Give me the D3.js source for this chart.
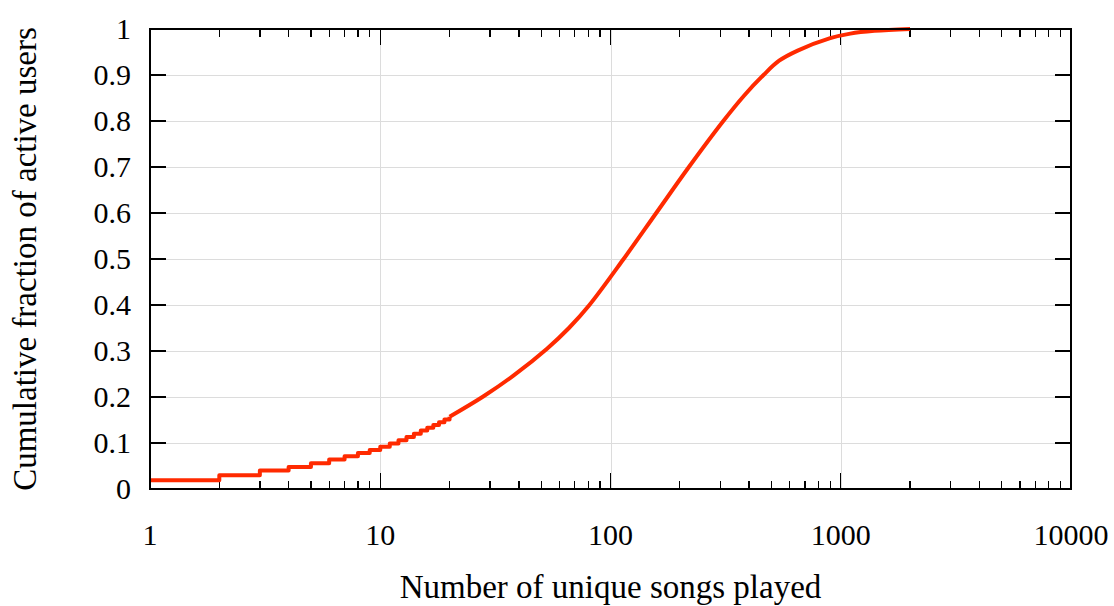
<!DOCTYPE html>
<html>

<head>
  <meta charset="utf-8" />
  <title>CDF of unique songs</title>
  <style>
    body {
      margin: 0;
      background: #fff;
    }

    svg text {
      font-family: 'Liberation Serif', 'Times New Roman', Times, serif;
      fill: #000;
    }

    .grid line {
      stroke: #dcdcdc;
      stroke-width: 1px;
      shape-rendering: crispEdges;
    }

    .tick-mark {
      stroke: #000;
      stroke-width: 1.3px;
      shape-rendering: crispEdges;
    }

    .frame {
      fill: none;
      stroke: #000;
      stroke-width: 1.5px;
      shape-rendering: crispEdges;
    }

    .cdf {
      fill: none;
      stroke: #ff2a00;
      stroke-width: 4px;
      stroke-linejoin: round;
    }
  </style>
  <script src="https://cdnjs.cloudflare.com/ajax/libs/d3/7.8.5/d3.min.js"></script>
</head>

<body>
  <div id="chartArea"></div>
  <script>
    // discrete part: step function at small song counts
    var stepSongs = [1, 2, 3, 4, 5, 6, 7, 8, 9, 10, 11, 12, 13, 14, 15, 16, 17, 18, 19, 20];
    var stepFrac = [0.019, 0.030, 0.040, 0.048, 0.056, 0.064, 0.071, 0.078, 0.085, 0.092,
      0.099, 0.106, 0.113, 0.120, 0.127, 0.133, 0.139, 0.145, 0.151, 0.157];

    // smooth part of the curve
    var smoothSongs = [20, 28, 38, 53, 66, 81, 114, 158, 219, 309, 380, 462, 540, 650, 900, 1100, 1400, 2000];
    var smoothFrac = [0.157, 0.201, 0.247, 0.305, 0.350, 0.400, 0.500, 0.600, 0.700, 0.800, 0.855,
      0.900, 0.931, 0.953, 0.980, 0.990, 0.996, 1.0];

    var yTickValues = [0, 0.1, 0.2, 0.3, 0.4, 0.5, 0.6, 0.7, 0.8, 0.9, 1];
    var xTickLabels = ['1', '10', '100', '1000', '10000'];

    var xTitle = 'Number of unique songs played';
    var yTitle = 'Cumulative fraction of active users';

    var W = 1114, H = 606;
    var margin = { top: 29, right: 43, bottom: 117, left: 150 };
    var w = W - margin.left - margin.right,
      h = H - margin.top - margin.bottom;

    var svg = d3.select('#chartArea').append('svg')
      .attr('width', W)
      .attr('height', H);

    var g = svg.append('g')
      .attr('transform', 'translate(' + margin.left + ',' + margin.top + ')');

    var xScale = d3.scaleLog()
      .domain([1, 10000])
      .range([0, w]);

    var yScale = d3.scaleLinear()
      .domain([0, 1])
      .range([h, 0]);

    var xTicks = xScale.ticks();
    var isMajor = d => Math.abs(Math.log10(d) - Math.round(Math.log10(d))) < 1e-9;
    var xMajor = xTicks.filter(isMajor);

    // grid
    var grid = g.append('g').attr('class', 'grid');
    grid.selectAll('.gx')
      .data(xMajor.filter(d => d > 1 && d < 10000))
      .enter().append('line')
      .attr('x1', d => Math.round(xScale(d)) + 0.5)
      .attr('x2', d => Math.round(xScale(d)) + 0.5)
      .attr('y1', 0)
      .attr('y2', h);
    grid.selectAll('.gy')
      .data(yTickValues.filter(d => d > 0 && d < 1))
      .enter().append('line')
      .attr('x1', 0)
      .attr('x2', w)
      .attr('y1', d => Math.round(yScale(d)) + 0.5)
      .attr('y2', d => Math.round(yScale(d)) + 0.5);

    // tick marks, inward on all four sides
    var ticks = g.append('g');
    var tickLen = d => isMajor(d) ? 16 : 8;
    ticks.selectAll('.tb')
      .data(xTicks)
      .enter().append('line')
      .attr('class', 'tick-mark')
      .attr('x1', d => xScale(d))
      .attr('x2', d => xScale(d))
      .attr('y1', h)
      .attr('y2', d => h - tickLen(d));
    ticks.selectAll('.tt')
      .data(xTicks)
      .enter().append('line')
      .attr('class', 'tick-mark')
      .attr('x1', d => xScale(d))
      .attr('x2', d => xScale(d))
      .attr('y1', 0)
      .attr('y2', d => tickLen(d));
    ticks.selectAll('.tl')
      .data(yTickValues)
      .enter().append('line')
      .attr('class', 'tick-mark')
      .attr('x1', 0)
      .attr('x2', 16)
      .attr('y1', d => yScale(d))
      .attr('y2', d => yScale(d));
    ticks.selectAll('.tr')
      .data(yTickValues)
      .enter().append('line')
      .attr('class', 'tick-mark')
      .attr('x1', w)
      .attr('x2', w - 16)
      .attr('y1', d => yScale(d))
      .attr('y2', d => yScale(d));

    // the curve
    var stepData = stepSongs.map((s, i) => ({ x: s, y: stepFrac[i] }));
    var smoothData = smoothSongs.map((s, i) => ({ x: s, y: smoothFrac[i] }));

    var stepLine = d3.line()
      .x(d => xScale(d.x))
      .y(d => yScale(d.y))
      .curve(d3.curveStepAfter);
    var smoothLine = d3.line()
      .x(d => xScale(d.x))
      .y(d => yScale(d.y))
      .curve(d3.curveCatmullRom.alpha(0.5));

    g.append('path')
      .datum(stepData)
      .attr('class', 'cdf')
      .attr('d', stepLine);
    g.append('path')
      .datum(smoothData)
      .attr('class', 'cdf')
      .attr('d', smoothLine);

    // frame
    g.append('rect')
      .attr('class', 'frame')
      .attr('x', 0)
      .attr('y', 0)
      .attr('width', w)
      .attr('height', h);

    // tick labels
    g.selectAll('.xl')
      .data(xMajor)
      .enter().append('text')
      .attr('x', d => xScale(d))
      .attr('y', h + 56)
      .attr('text-anchor', 'middle')
      .attr('font-size', 30)
      .text((d, i) => xTickLabels[i]);

    g.selectAll('.yl')
      .data(yTickValues)
      .enter().append('text')
      .attr('x', -19)
      .attr('y', d => yScale(d) + 10)
      .attr('text-anchor', 'end')
      .attr('font-size', 30)
      .text(d => d3.format('~g')(d));

    // axis titles
    svg.append('text')
      .attr('x', margin.left + w / 2)
      .attr('y', 598)
      .attr('text-anchor', 'middle')
      .attr('font-size', 33)
      .text(xTitle);

    svg.append('text')
      .attr('transform', 'translate(36,' + (margin.top + h / 2) + ') rotate(-90)')
      .attr('text-anchor', 'middle')
      .attr('font-size', 33)
      .text(yTitle);
  </script>
</body>

</html>
